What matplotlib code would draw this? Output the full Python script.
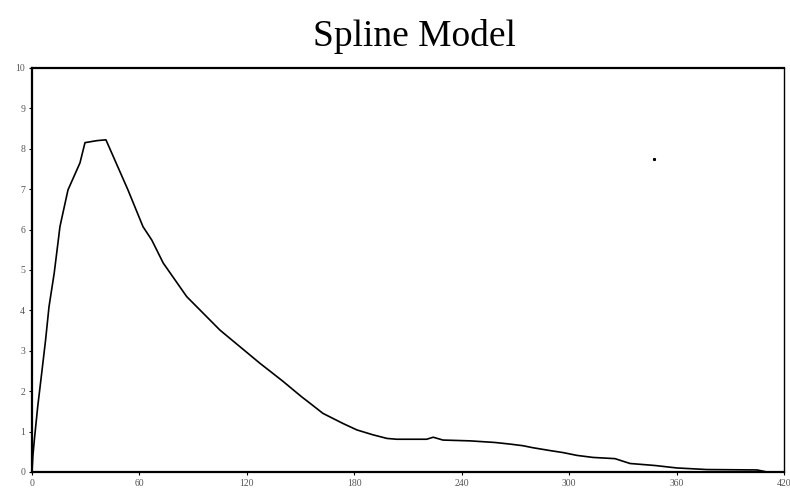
import matplotlib
matplotlib.use("Agg")
import matplotlib.pyplot as plt

# Data
t = [0, 0.5, 1.3, 3.2, 5.4, 7.6, 9.5, 12.4, 14.7, 15.6, 20.1, 26.8, 29.6, 36.3, 41.3,
     53.6, 62.0, 66.9, 73.3, 86.4, 105.0, 127.3, 140.0, 150.6, 155.3, 162.5, 173.7,
     181.5, 190.4, 198.3, 203.7, 220.4, 224.1, 229.5, 244.6, 258.6, 267.0, 274.2,
     279.8, 289.3, 296.6, 304.4, 313.3, 325.6, 334.0, 348.0, 360.0, 377.0, 405.0,
     410.5, 419.4]
conc = [0, 0.4, 0.79, 1.62, 2.44, 3.27, 4.09, 4.92, 5.74, 6.07, 6.98, 7.65, 8.15, 8.2, 8.22,
        6.98, 6.07, 5.74, 5.17, 4.34, 3.51, 2.69, 2.25, 1.86, 1.70, 1.45, 1.20,
        1.04, 0.92, 0.83, 0.81, 0.81, 0.86, 0.79, 0.77, 0.73, 0.69, 0.65,
        0.60, 0.53, 0.48, 0.41, 0.36, 0.33, 0.21, 0.16, 0.10, 0.06, 0.05,
        0.0, 0.0]
speck_t = [347.4]
speck_c = [7.75]
xticks = [0, 60, 120, 180, 240, 300, 360, 420]
yticks = list(range(0, 11))
title = "Spline Model"

fig = plt.figure(figsize=(7.9, 4.92), dpi=100)
ax = fig.add_axes([0.0405, 0.0407, 0.9519, 0.8213])
ax.plot(t, conc, color="black", lw=1.2)
ax.plot(speck_t, speck_c, "s", color="black", ms=1.2)
ax.set_xlim(0, 420)
ax.set_ylim(0, 10)
ax.set_xticks(xticks)
ax.set_yticks(yticks)
ax.set_xticklabels([str(v) for v in xticks])
ax.set_yticklabels([str(v) for v in yticks])
ax.tick_params(direction="out", length=2, width=0.8, labelsize=7,
               labelcolor="#555555", pad=3)
for s in ["left", "bottom", "top"]:
    ax.spines[s].set_linewidth(1.6)
ax.spines["right"].set_linewidth(1.0)
for lab in ax.get_xticklabels() + ax.get_yticklabels():
    lab.set_family("Liberation Serif")
fig.suptitle(title, x=0.525, y=0.962, fontsize=27, family="Liberation Serif")
fig.savefig("out.png", dpi=100)
